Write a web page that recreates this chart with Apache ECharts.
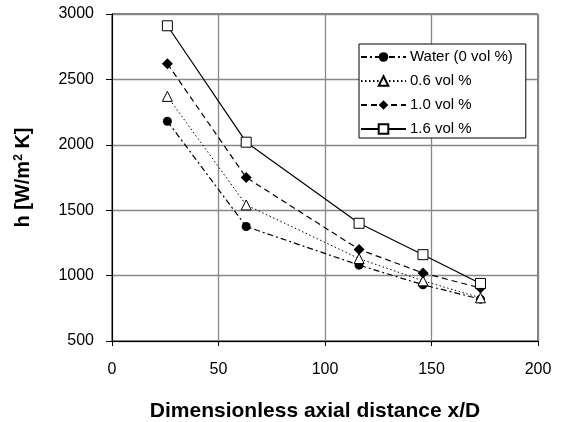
<!DOCTYPE html>
<html>
<head>
<meta charset="utf-8">
<script src="https://cdn.jsdelivr.net/npm/echarts@6/dist/echarts.min.js"></script>
<style>
  html, body { margin: 0; padding: 0; background: #fff; }
  #main { width: 562px; height: 422px; }
</style>
</head>
<body>
<div id="main"></div>
<script>
// x/D positions and h values
var xd = [26, 63, 116, 146, 173];
var water = [2180, 1375, 1080, 930, 820];
var vol06 = [2370, 1540, 1130, 960, 830];
var vol10 = [2620, 1750, 1200, 1020, 905];
var vol16 = [2910, 2020, 1400, 1160, 940];
var names = ['Water (0 vol %)', '0.6 vol %', '1.0 vol %', '1.6 vol %'];

function pairs(ys) {
  return xd.map(function (x, i) { return [x, ys[i]]; });
}

var chartDom = document.getElementById('main');
var myChart = echarts.init(chartDom, null, { renderer: 'canvas' });
var font = 'Liberation Sans, Arial, sans-serif';

var option = {
  animation: false,
  textStyle: { fontFamily: font },
  grid: {
    left: 112, right: 24, top: 14, bottom: 81,
    outerBoundsMode: 'none',
    show: true, borderColor: '#000', borderWidth: 1
  },
  legend: {
    orient: 'vertical',
    left: 359, top: 44,
    data: names,
    itemWidth: 45, itemHeight: 12, itemGap: 8,
    backgroundColor: '#fff',
    borderColor: '#000', borderWidth: 1,
    padding: [5, 13, 1, 1],
    textStyle: { fontFamily: font, fontSize: 15, lineHeight: 16, color: '#000', padding: [0, 0, 0, -1] }
  },
  xAxis: {
    type: 'value', min: 0, max: 200, interval: 50,
    name: 'Dimensionless axial distance x/D',
    nameLocation: 'middle', nameGap: 60,
    nameTextStyle: {
      fontFamily: font, fontSize: 21, fontWeight: 'bold', color: '#000',
      padding: [0, 20, 0, 0]
    },
    axisLine: { onZero: false, lineStyle: { color: '#000' } },
    axisTick: { show: true, length: 5, lineStyle: { color: '#000' } },
    axisLabel: { fontFamily: font, fontSize: 16, color: '#000', margin: 21 },
    splitLine: { show: true, lineStyle: { color: '#888', width: 1.3 } }
  },
  yAxis: {
    type: 'value', min: 500, max: 3000, interval: 500,
    name: '{a|h [W/m}{s|2}{a| K]}',
    nameLocation: 'middle', nameGap: 79,
    nameTextStyle: {
      fontFamily: font, fontSize: 20, fontWeight: 'bold', color: '#000',
      rich: {
        a: { fontFamily: font, fontSize: 20, fontWeight: 'bold', color: '#000' },
        s: { fontFamily: font, fontSize: 12, fontWeight: 'bold', color: '#000', verticalAlign: 'top', padding: [0, 0, 8, 0] }
      }
    },
    axisLine: { show: true, onZero: false, lineStyle: { color: '#000' } },
    axisTick: { show: true, length: 6, lineStyle: { color: '#000' } },
    axisLabel: {
      fontFamily: font, fontSize: 16, color: '#000', margin: 18,
      formatter: function (v) { return String(v); }
    },
    splitLine: { show: true, lineStyle: { color: '#888', width: 1.3 } }
  },
  series: [
    {
      name: names[0], type: 'line', data: pairs(water),
      symbol: 'circle', symbolSize: 9,
      itemStyle: { color: '#000' },
      lineStyle: { color: '#000', width: 1.2, type: [6, 3, 2, 3] }
    },
    {
      name: names[1], type: 'line', data: pairs(vol06),
      symbol: 'triangle', symbolSize: 10,
      itemStyle: { color: '#fff', borderColor: '#000', borderWidth: 1 },
      lineStyle: { color: '#000', width: 1, type: [1.5, 2.5] }
    },
    {
      name: names[2], type: 'line', data: pairs(vol10),
      symbol: 'diamond', symbolSize: 11,
      itemStyle: { color: '#000' },
      lineStyle: { color: '#000', width: 1.2, type: [6, 4] }
    },
    {
      name: names[3], type: 'line', data: pairs(vol16),
      symbol: 'rect', symbolSize: 10,
      itemStyle: { color: '#fff', borderColor: '#000', borderWidth: 1 },
      lineStyle: { color: '#000', width: 1.2, type: 'solid' }
    }
  ]
};
myChart.setOption(option);
</script>
</body>
</html>
